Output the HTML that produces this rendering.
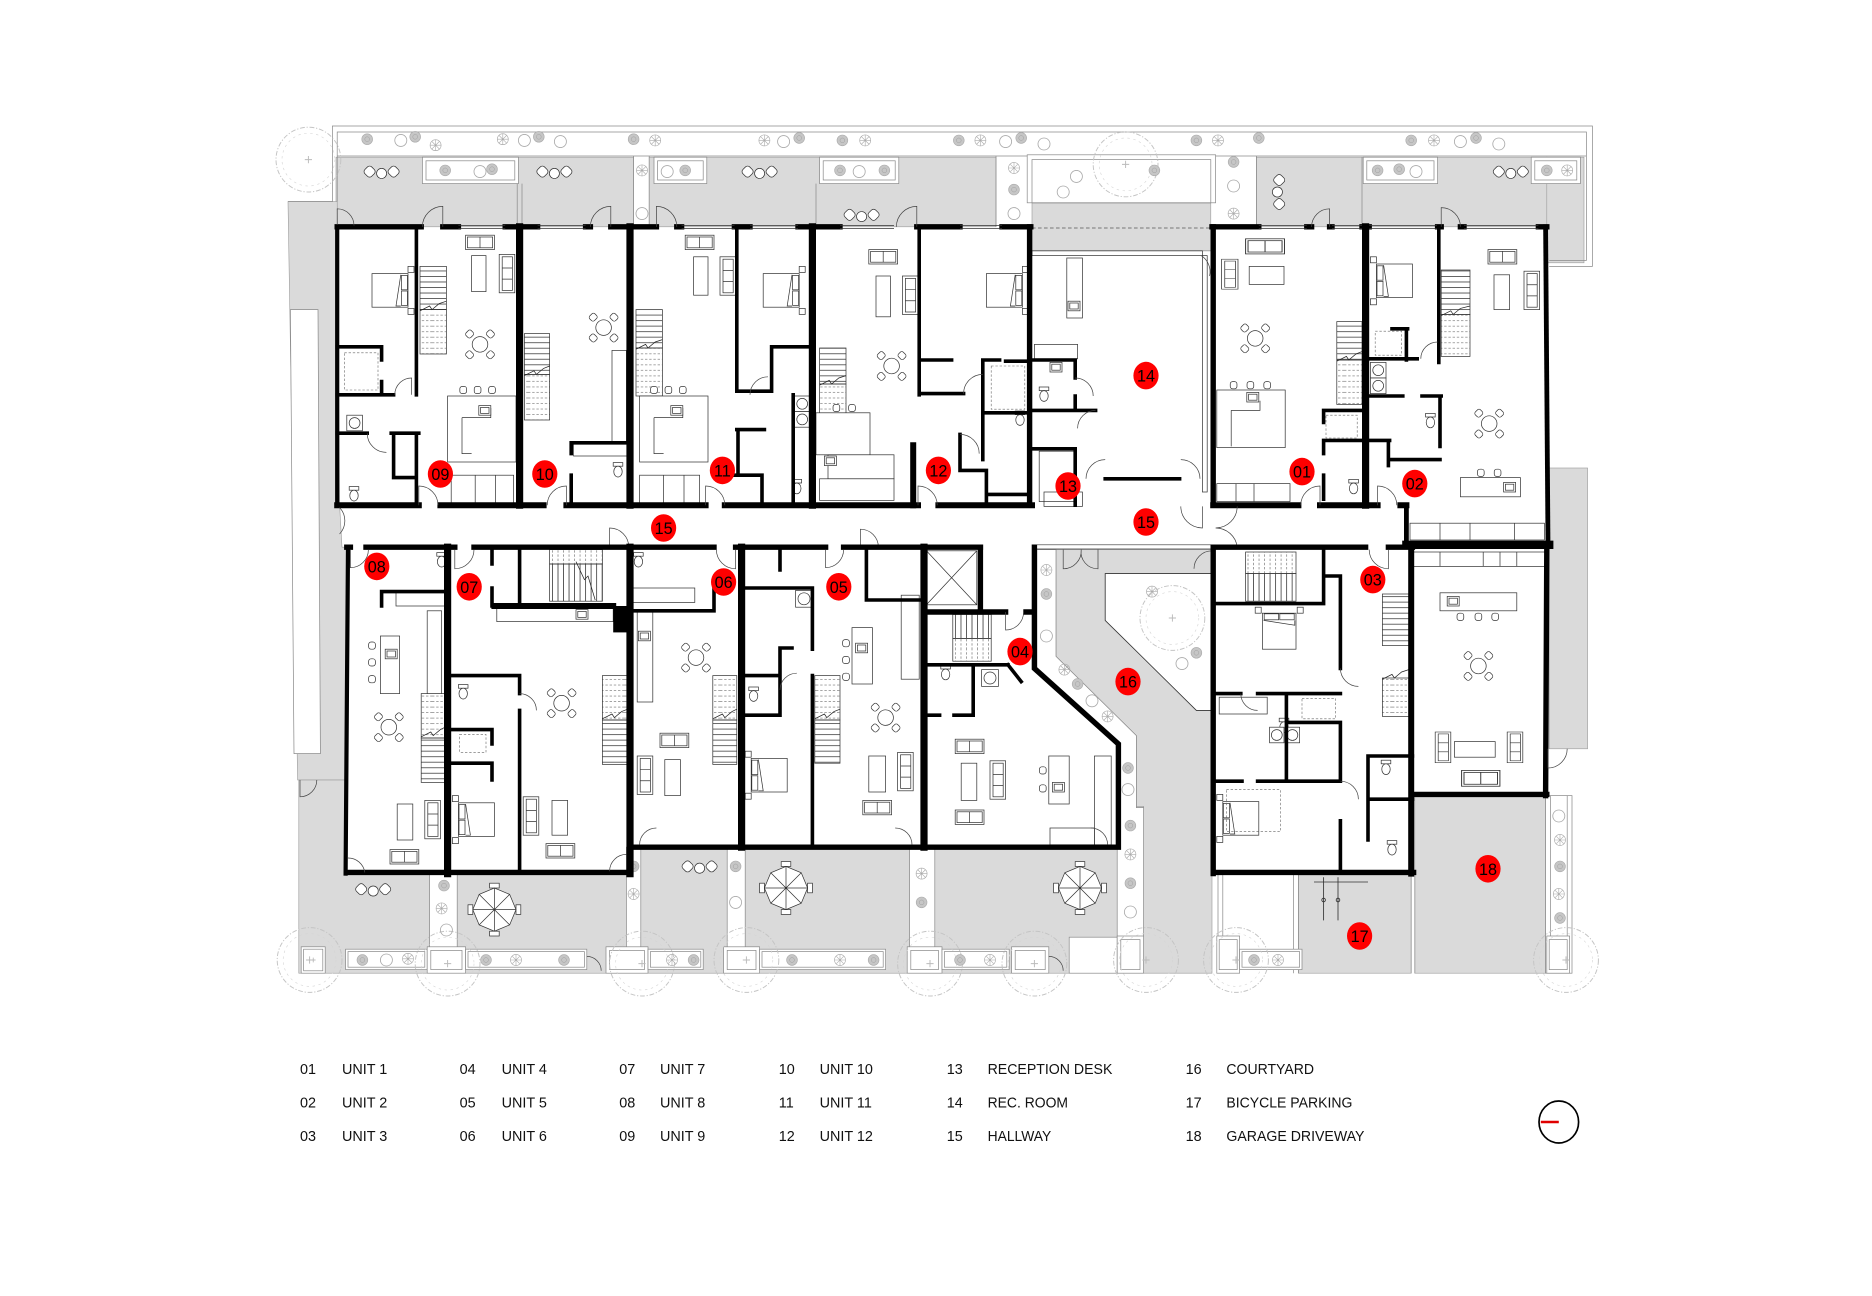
<!DOCTYPE html>
<html><head><meta charset="utf-8"><title>Floor Plan</title>
<style>
html,body{margin:0;padding:0;background:#fff;width:1872px;height:1296px;overflow:hidden}
svg{display:block}
.o{fill:none;stroke:#8a8a8a;stroke-width:.6}
.n{fill:none;stroke:#333;stroke-width:.6}
.f{fill:#fff;stroke:#333;stroke-width:.6}
.d{fill:none;stroke:#666;stroke-width:.5;stroke-dasharray:2 1.5}
.g{fill:#dadada;stroke:#9a9a9a;stroke-width:.5}
.wb{fill:#fff;stroke:#8a8a8a;stroke-width:.6}
.W{fill:none;stroke:#000;stroke-linecap:square}
.lg{font-family:"Liberation Sans",Arial,sans-serif;font-size:12px;fill:#111}
.rl{font-family:"Liberation Sans",Arial,sans-serif;font-size:13.5px;fill:#000;text-anchor:middle}
</style></head><body>
<svg width="1872" height="1296" viewBox="0 0 1560 1080" xmlns="http://www.w3.org/2000/svg">
<defs>
<pattern id="sh" width="40" height="4.6" patternUnits="userSpaceOnUse"><path d="M0 .4H40" stroke="#222" stroke-width=".6"/></pattern>
<pattern id="sd" width="40" height="4.6" patternUnits="userSpaceOnUse"><path d="M0 .4H40" stroke="#666" stroke-width=".5" stroke-dasharray="2 1.5"/></pattern>
<pattern id="sv" width="4.6" height="60" patternUnits="userSpaceOnUse"><path d="M.4 0V60" stroke="#222" stroke-width=".6"/></pattern>
<pattern id="svd" width="4.6" height="60" patternUnits="userSpaceOnUse"><path d="M.4 0V60" stroke="#666" stroke-width=".5" stroke-dasharray="2 1.5"/></pattern>
<g id="dt" fill="#fff" stroke="#333" stroke-width=".6"><circle r="6.5"/><g transform="rotate(45)"><rect x="-3" y="-15" width="6" height="5.5" rx="1.8"/><rect x="-3" y="9.5" width="6" height="5.5" rx="1.8"/><rect x="-15" y="-3" width="5.5" height="6" rx="1.8"/><rect x="9.5" y="-3" width="5.5" height="6" rx="1.8"/></g></g>
<g id="bed" fill="#fff" stroke="#333" stroke-width=".6"><rect width="30" height="28"/><rect x="30" y="-6" width="5" height="5"/><rect x="30" y="29" width="5" height="5"/><rect x="24.5" y="1.5" width="5" height="12"/><rect x="24.5" y="14.5" width="5" height="12"/><path d="M24 1L20 27L24 27" fill="none"/></g>
<g id="sofa" fill="#fff" stroke="#333" stroke-width=".6"><rect width="13" height="32"/><rect x="2.5" y="2" width="8.5" height="28"/><path d="M2.5 11.3H11M2.5 20.6H11" fill="none"/></g>
<g id="tv" fill="#fff" stroke="#333" stroke-width=".6"><rect width="24" height="12"/><rect x="1.5" y="1.5" width="21" height="9"/><path d="M12 1.5V10.5"/></g>
<g id="wc" fill="#fff" stroke="#333" stroke-width=".6"><rect x="-4" y="-7.5" width="8" height="3"/><ellipse cx="0" cy="0" rx="3.5" ry="4.5"/></g>
<g id="sk" fill="#fff" stroke="#333" stroke-width=".6"><rect x="-5" y="-4" width="10" height="8"/><rect x="-3.5" y="-2.5" width="7" height="5"/></g>
<g id="pa"><circle r="4.5" fill="#c6c6c6" stroke="#aaa" stroke-width=".5"/><circle r="2" fill="none" stroke="#9d9d9d" stroke-width=".4"/></g>
<g id="pb" fill="none" stroke="#aaa" stroke-width=".5"><circle r="4.6"/><path d="M-4.6 0H4.6M0-4.6V4.6M-3.2-3.2L3.2 3.2M-3.2 3.2L3.2-3.2"/></g>
<g id="pc"><circle r="5" fill="none" stroke="#aaa" stroke-width=".7"/></g>
<g id="tr" fill="none" stroke="#c4c4c4" stroke-width=".8"><circle r="27" stroke-dasharray="4 1.5 1 1.5"/><circle r="22" stroke="#d4d4d4" stroke-width=".5" stroke-dasharray="2 3"/><path d="M-3 0H3M0-3V3" stroke="#bbb"/></g>
<g id="um" fill="#fff" stroke="#333" stroke-width=".6"><rect x="-4" y="-22" width="8" height="4"/><rect x="-4" y="18" width="8" height="4"/><rect x="-22" y="-4" width="4" height="8"/><rect x="18" y="-4" width="4" height="8"/><polygon points="18,0 12.7,12.7 0,18 -12.7,12.7 -18,0 -12.7,-12.7 0,-18 12.7,-12.7"/><path d="M-18 0H18M0-18V18M-12.7-12.7L12.7 12.7M-12.7 12.7L12.7-12.7"/></g>
<g id="cg" fill="#fff" stroke="#333" stroke-width=".6"><rect x="-14" y="-4" width="8" height="8" rx="2.5" transform="rotate(45 -10 0)"/><circle cx="0" cy="1.5" r="4.2"/><rect x="6" y="-4" width="8" height="8" rx="2.5" transform="rotate(45 10 0)"/></g>
<g id="st" fill="#fff" stroke="#333" stroke-width=".6"><rect x="-2.8" y="-3" width="5.6" height="6" rx="2"/></g>
<g id="bx" fill="#fff" stroke="#8a8a8a" stroke-width=".6"><rect width="20" height="22"/><rect x="2" y="2" width="16" height="18"/><path d="M8 11H12M10 9V13" stroke="#aaa"/></g>
</defs>

<rect width="1560" height="1080" fill="#fff"/>

<!-- ===== GRAY AREAS ===== -->
<rect class="g" x="280" y="131" width="248" height="58"/>
<rect class="g" x="541" y="131" width="289" height="58"/>
<rect class="g" x="1047" y="131" width="242" height="58"/>
<rect class="g" x="1289" y="131" width="31" height="88"/>
<rect class="g" x="860" y="169" width="149" height="40"/>
<polygon class="g" points="240,168 281,168 283,421 285,456 289,456 289,650 248,650"/>
<polygon points="242,258 265,258 267,628 245,628" fill="#fff" stroke="#8a8a8a" stroke-width=".6"/>
<rect class="g" x="249" y="650" width="704" height="161"/>
<polygon class="g" points="880,458 1010,458 1010,811 953,811 953,672 947,672 947,613 880,547"/>
<rect class="g" x="1082" y="729" width="94" height="82"/>
<rect class="g" x="1179" y="663" width="109" height="148"/>
<rect class="g" x="1291" y="390" width="32" height="234"/>

<!-- ===== WHITE OVERLAYS ===== -->
<polygon points="289,456 864,456 864,557 932,620 932,706 525,706 525,728 289,728" fill="#fff"/>
<polygon points="864,458 880,458 880,547 947,613 947,673 953,673 953,811 931,811 931,620 864,557" fill="#fff" stroke="#8a8a8a" stroke-width=".6"/>
<polygon points="921,478 1010,478 1010,592 997,592 921,517" fill="#fff" stroke="#333" stroke-width=".7"/>
<rect x="358" y="728" width="23" height="62" fill="#fff" stroke="#8a8a8a" stroke-width=".6"/>
<rect x="522" y="706" width="12" height="84" fill="#fff" stroke="#8a8a8a" stroke-width=".6"/>
<rect x="606" y="706" width="15" height="84" fill="#fff" stroke="#8a8a8a" stroke-width=".6"/>
<rect x="758" y="706" width="21" height="84" fill="#fff" stroke="#8a8a8a" stroke-width=".6"/>
<rect x="1288" y="663" width="22" height="148" fill="#fff" stroke="#8a8a8a" stroke-width=".6"/>
<path class="o" d="M1292,663V811M1306,663V811M1015,729V811M1019,729V811M1078,729V811M1082,729V811M1176,729V811M1179,729V811"/>

<path class="o" d="M240,168H277V105H1327V222H1291"/>
<path class="o" d="M281,168V110H1322V217H1291"/>
<path class="o" d="M281,130H1322M528,130V189M541,130V189M830,130V189M1047,130V189M431,153V189M435,153V189M1135,131V189M680,153V189"/>
<rect class="wb" x="352" y="131" width="80" height="22"/><rect class="o" x="355" y="134" width="74" height="16"/>
<rect class="wb" x="545" y="131" width="44" height="22"/><rect class="o" x="548" y="134" width="38" height="16"/>
<rect class="wb" x="683" y="131" width="66" height="22"/><rect class="o" x="686" y="134" width="60" height="16"/>
<rect class="wb" x="1136" y="131" width="62" height="22"/><rect class="o" x="1139" y="134" width="56" height="16"/>
<rect class="wb" x="1276" y="131" width="41" height="22"/><rect class="o" x="1279" y="134" width="35" height="16"/>
<rect class="wb" x="856" y="129" width="157" height="40"/><rect class="o" x="860" y="133" width="149" height="36"/>
<path class="o" d="M860,169H1009M860,209H1009"/>
<path d="M860,190H1009" fill="none" stroke="#555" stroke-width=".6" stroke-dasharray="3 2"/>

<g>
<use href="#bx" x="251" y="789"/>
<rect class="wb" x="288" y="791" width="68" height="17"/><rect class="o" x="290" y="793" width="64" height="13"/>
<rect x="356" y="789" width="32" height="22" fill="#fff" stroke="#8a8a8a" stroke-width=".6"/><rect class="o" x="359" y="792" width="26" height="16"/>
<rect class="wb" x="388" y="791" width="101" height="17"/><rect class="o" x="390" y="793" width="97" height="13"/>
<rect class="wb" x="505" y="789" width="35" height="22"/><rect class="o" x="508" y="792" width="29" height="16"/>
<rect class="wb" x="540" y="791" width="46" height="17"/><rect class="o" x="542" y="793" width="42" height="13"/>
<rect class="wb" x="603" y="789" width="30" height="22"/><rect class="o" x="606" y="792" width="24" height="16"/>
<rect class="wb" x="633" y="791" width="105" height="17"/><rect class="o" x="635" y="793" width="101" height="13"/>
<rect class="wb" x="756" y="789" width="29" height="22"/><rect class="o" x="759" y="792" width="23" height="16"/>
<rect class="wb" x="785" y="791" width="56" height="17"/><rect class="o" x="787" y="793" width="52" height="13"/>
<rect class="wb" x="843" y="789" width="31" height="22"/><rect class="o" x="846" y="792" width="25" height="16"/>
<rect class="wb" x="891" y="781" width="40" height="30"/>
<rect class="wb" x="931" y="780" width="22" height="31"/><rect class="o" x="934" y="783" width="16" height="25"/>
<rect class="wb" x="1014" y="780" width="19" height="31"/><rect class="o" x="1016" y="783" width="15" height="25"/>
<rect class="wb" x="1033" y="791" width="52" height="17"/><rect class="o" x="1035" y="793" width="48" height="13"/>
<rect class="wb" x="1289" y="780" width="19" height="31"/><rect class="o" x="1291" y="783" width="15" height="25"/>
</g>

<g>
<use href="#tr" x="257" y="133"/><use href="#tr" x="938" y="137"/><use href="#tr" x="977" y="515"/>
<use href="#tr" x="258" y="800"/><use href="#tr" x="373" y="803"/><use href="#tr" x="535" y="803"/><use href="#tr" x="622" y="800"/><use href="#tr" x="775" y="803"/><use href="#tr" x="862" y="803"/><use href="#tr" x="955" y="800"/><use href="#tr" x="1030" y="800"/><use href="#tr" x="1305" y="800"/>
<use href="#pa" x="306" y="116"/><use href="#pc" x="334" y="117"/><use href="#pa" x="346" y="114"/><use href="#pb" x="363" y="121"/><use href="#pb" x="419" y="116"/><use href="#pc" x="437" y="117"/><use href="#pa" x="449" y="114"/><use href="#pc" x="467" y="118"/><use href="#pa" x="528" y="116"/><use href="#pb" x="546" y="117"/><use href="#pb" x="637" y="117"/><use href="#pc" x="653" y="118"/><use href="#pa" x="666" y="115"/><use href="#pa" x="702" y="117"/><use href="#pb" x="721" y="117"/><use href="#pa" x="799" y="117"/><use href="#pb" x="817" y="117"/><use href="#pc" x="838" y="118"/><use href="#pa" x="851" y="115"/><use href="#pc" x="870" y="120"/><use href="#pa" x="997" y="117"/><use href="#pb" x="1015" y="117"/><use href="#pa" x="1049" y="115"/><use href="#pa" x="1176" y="117"/><use href="#pb" x="1195" y="117"/><use href="#pc" x="1217" y="118"/><use href="#pa" x="1230" y="115"/><use href="#pc" x="1249" y="120"/>
<use href="#pa" x="371" y="142"/><use href="#pc" x="400" y="143"/><use href="#pa" x="410" y="141"/><use href="#pc" x="556" y="143"/><use href="#pa" x="571" y="142"/><use href="#pa" x="700" y="142"/><use href="#pc" x="716" y="143"/><use href="#pa" x="737" y="142"/><use href="#pa" x="1148" y="142"/><use href="#pa" x="1166" y="141"/><use href="#pc" x="1180" y="143"/><use href="#pa" x="1289" y="142"/><use href="#pb" x="1306" y="142"/>
<use href="#pb" x="535" y="142"/><use href="#pc" x="535" y="178"/><use href="#pb" x="845" y="140"/><use href="#pa" x="845" y="158"/><use href="#pc" x="845" y="178"/><use href="#pa" x="1028" y="135"/><use href="#pc" x="1028" y="155"/><use href="#pb" x="1028" y="178"/>
<use href="#pc" x="897" y="147"/><use href="#pc" x="886" y="160"/><use href="#pa" x="962" y="142"/>
<use href="#pb" x="872" y="475"/><use href="#pa" x="872" y="495"/><use href="#pc" x="872" y="530"/><use href="#pb" x="887" y="558"/><use href="#pa" x="898" y="570"/><use href="#pc" x="910" y="584"/><use href="#pb" x="923" y="597"/><use href="#pa" x="940" y="640"/><use href="#pc" x="940" y="658"/><use href="#pa" x="942" y="688"/><use href="#pb" x="942" y="712"/><use href="#pa" x="942" y="736"/><use href="#pc" x="942" y="760"/>
<use href="#pb" x="960" y="493"/><use href="#pa" x="997" y="544"/><use href="#pc" x="985" y="553"/>
<use href="#pa" x="370" y="738"/><use href="#pb" x="368" y="757"/><use href="#pc" x="372" y="775"/><use href="#pa" x="528" y="722"/><use href="#pb" x="528" y="745"/><use href="#pa" x="613" y="722"/><use href="#pc" x="613" y="752"/><use href="#pb" x="768" y="728"/><use href="#pa" x="768" y="752"/>
<use href="#pc" x="1299" y="680"/><use href="#pb" x="1300" y="700"/><use href="#pa" x="1300" y="722"/><use href="#pb" x="1299" y="745"/><use href="#pa" x="1300" y="765"/>
<use href="#pa" x="302" y="800"/><use href="#pc" x="322" y="800"/><use href="#pb" x="340" y="799"/><use href="#pa" x="405" y="800"/><use href="#pb" x="430" y="800"/><use href="#pa" x="470" y="800"/><use href="#pb" x="560" y="800"/><use href="#pa" x="578" y="800"/><use href="#pa" x="660" y="800"/><use href="#pb" x="700" y="800"/><use href="#pa" x="728" y="800"/><use href="#pa" x="800" y="800"/><use href="#pb" x="825" y="800"/><use href="#pa" x="1045" y="800"/><use href="#pb" x="1065" y="800"/>
</g>

<use href="#cg" x="318" y="143"/><use href="#cg" x="462" y="143"/><use href="#cg" x="633" y="143"/><use href="#cg" x="718" y="179"/><use href="#cg" x="1259" y="143"/>
<use href="#cg" transform="translate(1066,160) rotate(90)"/>
<use href="#cg" x="311" y="741"/><use href="#cg" x="583" y="722"/>
<use href="#um" x="412" y="758"/><use href="#um" x="655" y="740"/><use href="#um" x="900" y="740"/>
<g fill="none" stroke="#333" stroke-width=".7"><path d="M1095,735H1140M1103,731V767M1115,731V767"/><circle cx="1103" cy="750" r="1.5"/><circle cx="1115" cy="750" r="1.5"/></g>

<rect class="n" x="860" y="209" width="142" height="4"/>
<rect class="n" x="1002" y="213" width="4" height="197"/>
<rect class="f" x="889" y="215" width="13" height="50"/><use href="#sk" x="895" y="255"/>
<rect class="f" x="862" y="287" width="36" height="12"/>
<use href="#sk" x="880" y="306"/><use href="#wc" x="870" y="330"/>
<rect class="f" x="866" y="376" width="29" height="42"/><rect class="n" x="870" y="410" width="32" height="12"/>

<g stroke="#333" stroke-width=".6">
<rect x="350" y="222" width="22" height="36" fill="url(#sh)"/><rect x="350" y="258" width="22" height="37" fill="url(#sd)"/>
<rect x="437" y="278" width="21" height="34" fill="url(#sh)"/><rect x="437" y="312" width="21" height="38" fill="url(#sd)"/>
<rect x="530" y="258" width="22" height="32" fill="url(#sh)"/><rect x="530" y="290" width="22" height="40" fill="url(#sd)"/>
<rect x="683" y="290" width="22" height="30" fill="url(#sh)"/><rect x="683" y="320" width="22" height="40" fill="url(#sd)"/>
<rect x="1114" y="268" width="21" height="32" fill="url(#sh)"/><rect x="1114" y="300" width="21" height="37" fill="url(#sd)"/>
<rect x="1201" y="225" width="24" height="37" fill="url(#sh)"/><rect x="1201" y="262" width="24" height="35" fill="url(#sd)"/>
<rect x="351" y="578" width="20" height="37" fill="url(#sd)"/><rect x="351" y="615" width="20" height="37" fill="url(#sh)"/>
<rect x="502" y="563" width="21" height="37" fill="url(#sd)"/><rect x="502" y="600" width="21" height="37" fill="url(#sh)"/>
<rect x="594" y="563" width="20" height="37" fill="url(#sd)"/><rect x="594" y="600" width="20" height="37" fill="url(#sh)"/>
<rect x="679" y="563" width="21" height="37" fill="url(#sd)"/><rect x="679" y="600" width="21" height="36" fill="url(#sh)"/>
<rect x="458" y="458" width="44" height="12" fill="url(#svd)"/><rect x="458" y="470" width="44" height="31" fill="url(#sv)"/>
<rect x="794" y="512" width="32" height="20" fill="url(#sv)"/><rect x="794" y="532" width="32" height="19" fill="url(#svd)"/>
<rect x="1038" y="460" width="42" height="18" fill="url(#svd)"/><rect x="1038" y="478" width="42" height="23" fill="url(#sv)"/>
<rect x="1152" y="495" width="22" height="43" fill="url(#sh)"/><rect x="1152" y="565" width="22" height="32" fill="url(#sd)"/>
</g>
<g fill="none" stroke="#222" stroke-width=".6"><path d="M350,259L358,255L360,258L366,253L372,251M437,313L445,309L447,312L453,307L458,305M530,291L538,287L540,290L546,285L552,283M683,321L691,317L693,320L699,315L705,313M1114,301L1122,297L1124,300L1130,295L1135,293M1201,263L1209,259L1211,262L1217,257L1225,255M351,614L359,610L361,613L367,608L371,606M502,599L510,595L512,598L518,593L523,591M594,599L602,595L604,598L610,593L614,591M679,599L687,595L689,598L695,593L700,591M1152,566L1160,562L1162,565L1168,560L1174,558M480,468L487,483L490,480L496,500"/></g>
<rect class="f" x="772" y="459" width="42" height="45"/><path class="n" d="M772,459L814,504M814,459L772,504"/>

<g fill="#fff" stroke="#333" stroke-width=".6">
<rect x="373" y="330" width="57" height="55"/><path d="M385,348H409V340M385,348V378H393" fill="none"/><rect x="376" y="396" width="52" height="25"/><path d="M396,396V421M413,396V421" fill="none"/>
<rect x="533" y="330" width="57" height="55"/><path d="M545,348H569V340M545,348V378H553" fill="none"/><rect x="533" y="396" width="50" height="25"/><path d="M553,396V421M570,396V421" fill="none"/>
<rect x="680" y="344" width="45" height="35"/><rect x="690" y="379" width="55" height="20"/><rect x="683" y="399" width="62" height="18"/>
<rect x="1014" y="325" width="57" height="48"/><path d="M1026,342H1050V334M1026,342V372" fill="none"/><rect x="1014" y="403" width="61" height="15"/><path d="M1030,403V418M1045,403V418" fill="none"/>
<rect x="510" y="292" width="12" height="77"/><rect x="478" y="369" width="47" height="11"/>
<rect x="356" y="509" width="12" height="69"/><rect x="317" y="530" width="16" height="48"/><rect x="330" y="493" width="43" height="12"/>
<rect x="414" y="506" width="97" height="12"/>
<rect x="531" y="509" width="13" height="76"/><rect x="527" y="490" width="52" height="12"/>
<rect x="710" y="523" width="17" height="47"/><rect x="751" y="496" width="15" height="70"/>
<rect x="874" y="630" width="17" height="40"/><rect x="912" y="630" width="14" height="74"/><rect x="875" y="690" width="37" height="14"/>
<rect x="1200" y="494" width="64" height="15"/><rect x="1178" y="460" width="110" height="12"/><path d="M1200,460V472M1236,460V472M1250,460V472M1264,460V472" fill="none"/>
<rect x="1217" y="398" width="50" height="16"/><rect x="1175" y="436" width="112" height="14"/><path d="M1200,436V450M1225,436V450M1262,436V450" fill="none"/>
<rect x="1016" y="581" width="40" height="14"/>
</g>
<rect x="511" y="505" width="13" height="22" fill="#000"/>
<g>
<use href="#sk" x="404" y="342"/><use href="#sk" x="564" y="342"/><use href="#sk" x="1044" y="331"/><use href="#sk" x="326" y="545"/><use href="#sk" x="718" y="540"/><use href="#sk" x="882" y="656"/><use href="#sk" x="1211" y="501"/><use href="#sk" x="1258" y="406"/><use href="#sk" x="692" y="384"/><use href="#sk" x="485" y="512"/><use href="#sk" x="537" y="530"/>
</g>
<use href="#st" x="386" y="325"/><use href="#st" x="398" y="325"/><use href="#st" x="410" y="325"/>
<use href="#st" x="545" y="325"/><use href="#st" x="557" y="325"/><use href="#st" x="569" y="325"/>
<use href="#st" x="1028" y="321"/><use href="#st" x="1042" y="321"/><use href="#st" x="1056" y="321"/>
<use href="#st" x="697" y="340"/><use href="#st" x="710" y="340"/>
<use href="#st" x="1234" y="394"/><use href="#st" x="1248" y="394"/>
<use href="#st" x="1217" y="514"/><use href="#st" x="1232" y="514"/><use href="#st" x="1246" y="514"/>
<use href="#st" x="310" y="538"/><use href="#st" x="310" y="552"/><use href="#st" x="310" y="566"/>
<use href="#st" x="705" y="536"/><use href="#st" x="705" y="550"/><use href="#st" x="705" y="564"/>
<use href="#st" x="869" y="642"/><use href="#st" x="869" y="657"/>

<use href="#dt" x="400" y="287"/><use href="#dt" x="503" y="273"/><use href="#dt" x="743" y="305"/><use href="#dt" x="1046" y="282"/><use href="#dt" x="1241" y="353"/>
<use href="#dt" x="324" y="606"/><use href="#dt" x="468" y="586"/><use href="#dt" x="580" y="548"/><use href="#dt" x="738" y="598"/><use href="#dt" x="1232" y="555"/>
<use href="#bed" x="310" y="228"/><use href="#bed" x="636" y="228"/><use href="#bed" x="822" y="228"/>
<use href="#bed" transform="translate(1177,220) scale(-1,1)"/>
<use href="#bed" transform="translate(412,669) scale(-1,1)"/>
<use href="#bed" transform="translate(656,632) scale(-1,1)"/>
<use href="#bed" transform="translate(1052,541) rotate(-90)"/>
<use href="#bed" transform="translate(1049,668) scale(-1,1)"/>
<use href="#sofa" x="416" y="212"/><use href="#sofa" x="600" y="214"/><use href="#sofa" x="752" y="230"/><use href="#sofa" x="1270" y="226"/>
<use href="#sofa" transform="translate(1018,216) scale(1.05,.78)"/>
<use href="#sofa" x="354" y="667"/><use href="#sofa" x="436" y="664"/><use href="#sofa" x="531" y="630"/><use href="#sofa" x="748" y="627"/><use href="#sofa" x="825" y="634"/>
<use href="#sofa" transform="translate(1196,610) scale(1,.8)"/><use href="#sofa" transform="translate(1256,610) scale(1,.8)"/>
<g fill="#fff" stroke="#333" stroke-width=".6">
<rect x="393" y="213" width="12" height="30"/><rect x="578" y="214" width="12" height="32"/><rect x="730" y="230" width="12" height="34"/><rect x="1041" y="222" width="29" height="15"/><rect x="1245" y="229" width="13" height="29"/>
<rect x="331" y="670" width="13" height="30"/><rect x="460" y="667" width="13" height="29"/><rect x="554" y="633" width="13" height="30"/><rect x="724" y="630" width="14" height="30"/><rect x="801" y="636" width="13" height="31"/><rect x="1212" y="618" width="34" height="13"/>
</g>
<use href="#tv" x="388" y="196"/><use href="#tv" x="571" y="196"/><use href="#tv" x="724" y="208"/><use href="#tv" transform="translate(1038,199) scale(1.35,1.05)"/><use href="#tv" x="1240" y="208"/>
<use href="#tv" x="325" y="708"/><use href="#tv" x="455" y="703"/><use href="#tv" x="550" y="611"/><use href="#tv" x="719" y="667"/><use href="#tv" x="796" y="616"/><use href="#tv" x="796" y="675"/><use href="#tv" transform="translate(1218,642) scale(1.33,1.1)"/>
<use href="#wc" x="295" y="413"/><use href="#wc" x="515" y="393"/><use href="#wc" x="664" y="407"/><use href="#wc" x="850" y="350"/><use href="#wc" x="1128" y="407"/><use href="#wc" x="1192" y="352"/>
<use href="#wc" x="368" y="468"/><use href="#wc" x="386" y="578"/><use href="#wc" x="532" y="468"/><use href="#wc" x="628" y="580"/><use href="#wc" x="788" y="562"/><use href="#wc" x="1070" y="606"/><use href="#wc" x="1160" y="708"/><use href="#wc" x="1155" y="641"/>
<g fill="#fff" stroke="#333" stroke-width=".6"><rect x="662" y="330" width="13" height="13"/><circle cx="668.5" cy="336.5" r="4.5"/><rect x="662" y="343" width="13" height="13"/><circle cx="668.5" cy="349.5" r="4.5"/>
<rect x="1142" y="302" width="13" height="13"/><circle cx="1148.5" cy="308.5" r="4.5"/><rect x="1142" y="315" width="13" height="13"/><circle cx="1148.5" cy="321.5" r="4.5"/>
<rect x="1058" y="606" width="12" height="13"/><circle cx="1064" cy="612.5" r="4.5"/><rect x="1071" y="606" width="12" height="13"/><circle cx="1077" cy="612.5" r="4.5"/>
<rect x="818" y="558" width="14" height="14"/><circle cx="825" cy="565" r="5"/><rect x="663" y="492" width="14" height="14"/><circle cx="670" cy="499" r="5"/><rect x="289" y="346" width="13" height="13"/><circle cx="295.5" cy="352.5" r="4.5"/></g>
<g class="d"><rect x="287" y="294" width="28" height="31"/><rect x="1105" y="346" width="26" height="19"/><rect x="1146" y="276" width="22" height="20"/><rect x="1022" y="658" width="45" height="35"/><rect x="1085" y="582" width="28" height="17"/><rect x="826" y="305" width="28" height="36"/><rect x="383" y="612" width="22" height="15"/></g>

<!-- ===== WALLS ===== -->
<path class="W" stroke-width="4.5" d="M281,189H351M369,189H382M421,189H448M488,189H492M509,189H547M564,189H568M612,189H625M665,189H700M764,189H800M835,189H859M1010,189H1049M1089,189H1093M1108,189H1110M1135,189H1141M1198,189H1201M1217,189H1220M1282,189H1289"/>
<path class="n" d="M382,188H421M382,190.5H421M448,188H488M448,190.5H488M568,188H612M568,190.5H612M625,188H665M625,190.5H665M700,188H745M700,190.5H745M800,188H835M800,190.5H835M1049,188H1089M1049,190.5H1089M1110,188H1135M1110,190.5H1135M1141,188H1198M1141,190.5H1198M1220,188H1282M1220,190.5H1282"/>
<g fill="none" stroke="#444" stroke-width=".6">
<path d="M369,189V172A17 17 0 0 0 352,189"/><path d="M509,189V172A17 17 0 0 0 492,189"/><path d="M547,189V172A17 17 0 0 1 564,189"/><path d="M764,189V172A17 17 0 0 0 747,189"/><path d="M1108,189V174A15 15 0 0 0 1093,189"/><path d="M1201,189V173A16 16 0 0 1 1217,189"/>
<path d="M281,188V174A14 14 0 0 1 295,188"/>
</g>
<path class="W" stroke-width="3.5" d="M281,189V421"/>
<path class="W" stroke-width="6" d="M433,189V421M525,189V421M677,189V421M1138,189V421"/>
<path class="W" stroke-width="4.5" d="M858,189V421M1011,189V421"/>
<path class="W" stroke-width="4" d="M1288,189L1290,455"/>
<path class="W" stroke-width="5" d="M281,421H349M367,421H453M472,421H588M604,421H765M782,421H860M1011,421H1082M1100,421H1148M1167,421H1172"/>
<path class="W" stroke-width="4" d="M1172,421V452"/>
<path class="W" stroke-width="7" d="M1172,454H1291"/>
<path class="W" stroke-width="3" d="M347,189V329M281,329H328M281,289H318M318,289V300M318,318V329M281,361H306M326,361H349M328,361V398M347,361V421M328,398H347
M476,369H525M476,369V378M476,396V421
M614,189V326M614,326H640M643,289H677M643,289V326M661,329V358M614,358H637M615,358V394M610,396H635M635,396V421M661,358V421
M766,189V329M768,300H793M768,328H803M819,300V383M822,300H833M838,301H858M822,344H858M800,362V392M800,392H822M822,392V421M822,412H858
M1103,342H1135M1103,342V352M1103,367H1135M1103,367V378M1103,396V416
M1199,189V302M1141,299H1181M1172,274V300M1160,274H1173M1141,330H1169M1185,330H1201M1200,330V372M1141,367H1158M1157,367V388M1157,383H1200
M860,300H896V315M896,330V342M860,342H913M860,374H896V421M921,399H983"/>
<path class="W" stroke-width="5" d="M761,371V421"/>
<g fill="none" stroke="#444" stroke-width=".6">
<path d="M349,421V405A16 16 0 0 1 365,421"/><path d="M472,421V405A16 16 0 0 0 456,421"/><path d="M588,421V405A16 16 0 0 1 604,421"/><path d="M765,421V405A16 16 0 0 1 781,421"/><path d="M1100,421V405A16 16 0 0 0 1084,421"/><path d="M1148,421V405A16 16 0 0 1 1164,421"/>
<path d="M329,329A14 14 0 0 1 343,315V329"/><path d="M306,361A16 16 0 0 0 322,377"/><path d="M625,329A15 15 0 0 1 640,314"/><path d="M803,328A16 16 0 0 1 819,312"/><path d="M1184,299A14 14 0 0 1 1198,285"/><path d="M905,399A16 16 0 0 1 921,383"/><path d="M1000,399A16 16 0 0 0 984,383"/><path d="M896,315A15 15 0 0 1 911,330"/><path d="M913,342A15 15 0 0 0 898,357"/><path d="M800,362A16 16 0 0 1 816,378"/>
<path d="M1001,213A16 16 0 0 1 1008,230"/>
</g>
<g fill="none" stroke="#444" stroke-width=".6">
<path d="M283,423A16 16 0 0 1 283,445"/><path d="M1013,440A18 18 0 0 1 1031,456M1013,440A18 18 0 0 0 1031,422"/>
<path d="M508,456V440A16 16 0 0 1 524,456"/><path d="M717,456V441A15 15 0 0 1 732,456"/><path d="M1002,422V440A18 18 0 0 1 984,422"/>
<path d="M886,458V474A15 15 0 0 0 901,458M915,458V474A14 14 0 0 1 901,458"/><path d="M1010,459A15 15 0 0 0 995,474"/>
</g>
<path class="W" stroke-width="4.5" d="M289,456H292M305,456H379M395,456H595M613,456H688M703,456H817M1011,456H1138M1157,456H1177"/>
<path class="n" d="M862,454H1010M862,457.5H1010"/>
<path class="W" stroke-width="3.5" d="M290,456L288,728"/>
<path class="W" stroke-width="6" d="M373,456V728M525,456V728M618,456V706M770,456V706"/>
<path class="W" stroke-width="4.5" d="M289,727H525M525,706H932M817,456V510M770,510H838M855,510H862M862,456V557L932,620V706M1011,456V728M1011,727H1178M1289,456L1288,663M1177,662H1289"/>
<path class="W" stroke-width="5" d="M1176,456V728"/>
<path class="W" stroke-width="5" d="M412,505H511"/>
<path class="W" stroke-width="3" d="M433,457V502M375,563H433M433,563V578M433,592V726M377,608H410M410,608V620M377,636H410M410,636V650M410,458V470M410,490V505M318,493V505M318,493H373
M527,509H595M595,490V509M621,490H677M677,490V541M650,541V596M650,540H660M621,563H650M621,596H650M677,563V706M722,456V500M722,500H766M650,456V475
M771,554H840M811,554V596M771,596H783M795,596H811M840,554L851,568
M1013,503H1103M1103,456V503M1103,480H1117M1117,480V503M1013,578H1034M1048,578H1117M1117,503V557M1117,602V651M1013,651H1035M1048,651H1117M1072,578V651M1072,602H1117M1140,630V700M1140,630H1177M1140,666H1177M1117,684V727"/>
<g fill="none" stroke="#444" stroke-width=".6">
<path d="M292,458V473A15 15 0 0 0 307,458"/><path d="M379,458V474A16 16 0 0 0 395,458"/><path d="M613,458V474A16 16 0 0 1 597,458"/><path d="M688,458V473A15 15 0 0 0 703,458"/><path d="M1157,458V474A16 16 0 0 1 1141,458"/><path d="M838,510V525A15 15 0 0 0 853,510"/>
<path d="M433,578A14 14 0 0 1 447,592"/><path d="M650,575A14 14 0 0 1 664,561"/><path d="M1117,557A15 15 0 0 0 1132,572"/><path d="M1117,651A15 15 0 0 1 1132,666"/><path d="M1034,578A14 14 0 0 0 1048,592"/>
<path d="M290,715A14 14 0 0 1 304,727"/><path d="M522,712A14 14 0 0 0 508,726"/><path d="M533,704A14 14 0 0 1 547,690"/><path d="M760,704A14 14 0 0 0 746,690"/><path d="M923,704A14 14 0 0 0 909,690"/><path d="M1290,624V640A16 16 0 0 0 1306,624"/>
<path d="M250,650V664A14 14 0 0 0 264,650"/><path d="M489,797A12 12 0 0 1 501,809"/><path d="M874,797A12 12 0 0 1 886,809"/>
</g>

<!-- ===== RED LABELS ===== -->
<g fill="#ff0000">
<ellipse cx="367" cy="395" rx="10.5" ry="11.5"/><ellipse cx="454" cy="395" rx="10.5" ry="11.5"/><ellipse cx="602" cy="392" rx="10.5" ry="11.5"/><ellipse cx="782" cy="392" rx="10.5" ry="11.5"/><ellipse cx="890" cy="405" rx="10.5" ry="11.5"/><ellipse cx="955" cy="313" rx="10.5" ry="11.5"/><ellipse cx="553" cy="440" rx="10.5" ry="11.5"/><ellipse cx="955" cy="435" rx="10.5" ry="11.5"/><ellipse cx="1085" cy="393" rx="10.5" ry="11.5"/><ellipse cx="1179" cy="403" rx="10.5" ry="11.5"/>
<ellipse cx="314" cy="472" rx="10.5" ry="11.5"/><ellipse cx="391" cy="489" rx="10.5" ry="11.5"/><ellipse cx="603" cy="485" rx="10.5" ry="11.5"/><ellipse cx="699" cy="489" rx="10.5" ry="11.5"/><ellipse cx="850" cy="543" rx="10.5" ry="11.5"/><ellipse cx="1144" cy="483" rx="10.5" ry="11.5"/><ellipse cx="940" cy="568" rx="10.5" ry="11.5"/><ellipse cx="1133" cy="780" rx="10.5" ry="11.5"/><ellipse cx="1240" cy="724" rx="10.5" ry="11.5"/>
</g>
<g class="rl">
<text x="367" y="400">09</text><text x="454" y="400">10</text><text x="602" y="397">11</text><text x="782" y="397">12</text><text x="890" y="410">13</text><text x="955" y="318">14</text><text x="553" y="445">15</text><text x="955" y="440">15</text><text x="1085" y="398">01</text><text x="1179" y="408">02</text>
<text x="314" y="477">08</text><text x="391" y="494">07</text><text x="603" y="490">06</text><text x="699" y="494">05</text><text x="850" y="548">04</text><text x="1144" y="488">03</text><text x="940" y="573">16</text><text x="1133" y="785">17</text><text x="1240" y="729">18</text>
</g>

<!-- ===== LEGEND ===== -->
<g class="lg">
<text x="250" y="895">01</text><text x="285" y="895">UNIT 1</text>
<text x="250" y="923">02</text><text x="285" y="923">UNIT 2</text>
<text x="250" y="951">03</text><text x="285" y="951">UNIT 3</text>
<text x="383" y="895">04</text><text x="418" y="895">UNIT 4</text>
<text x="383" y="923">05</text><text x="418" y="923">UNIT 5</text>
<text x="383" y="951">06</text><text x="418" y="951">UNIT 6</text>
<text x="516" y="895">07</text><text x="550" y="895">UNIT 7</text>
<text x="516" y="923">08</text><text x="550" y="923">UNIT 8</text>
<text x="516" y="951">09</text><text x="550" y="951">UNIT 9</text>
<text x="649" y="895">10</text><text x="683" y="895">UNIT 10</text>
<text x="649" y="923">11</text><text x="683" y="923">UNIT 11</text>
<text x="649" y="951">12</text><text x="683" y="951">UNIT 12</text>
<text x="789" y="895">13</text><text x="823" y="895" textLength="104" lengthAdjust="spacingAndGlyphs">RECEPTION DESK</text>
<text x="789" y="923">14</text><text x="823" y="923" textLength="67" lengthAdjust="spacingAndGlyphs">REC. ROOM</text>
<text x="789" y="951">15</text><text x="823" y="951" textLength="53" lengthAdjust="spacingAndGlyphs">HALLWAY</text>
<text x="988" y="895">16</text><text x="1022" y="895" textLength="73" lengthAdjust="spacingAndGlyphs">COURTYARD</text>
<text x="988" y="923">17</text><text x="1022" y="923" textLength="105" lengthAdjust="spacingAndGlyphs">BICYCLE PARKING</text>
<text x="988" y="951">18</text><text x="1022" y="951" textLength="115" lengthAdjust="spacingAndGlyphs">GARAGE DRIVEWAY</text>
</g>
<ellipse cx="1299" cy="935" rx="16.5" ry="17.5" fill="none" stroke="#000" stroke-width="1.4"/>
<path d="M1284,935H1299" stroke="#e00000" stroke-width="2"/>
</svg>
</body></html>
